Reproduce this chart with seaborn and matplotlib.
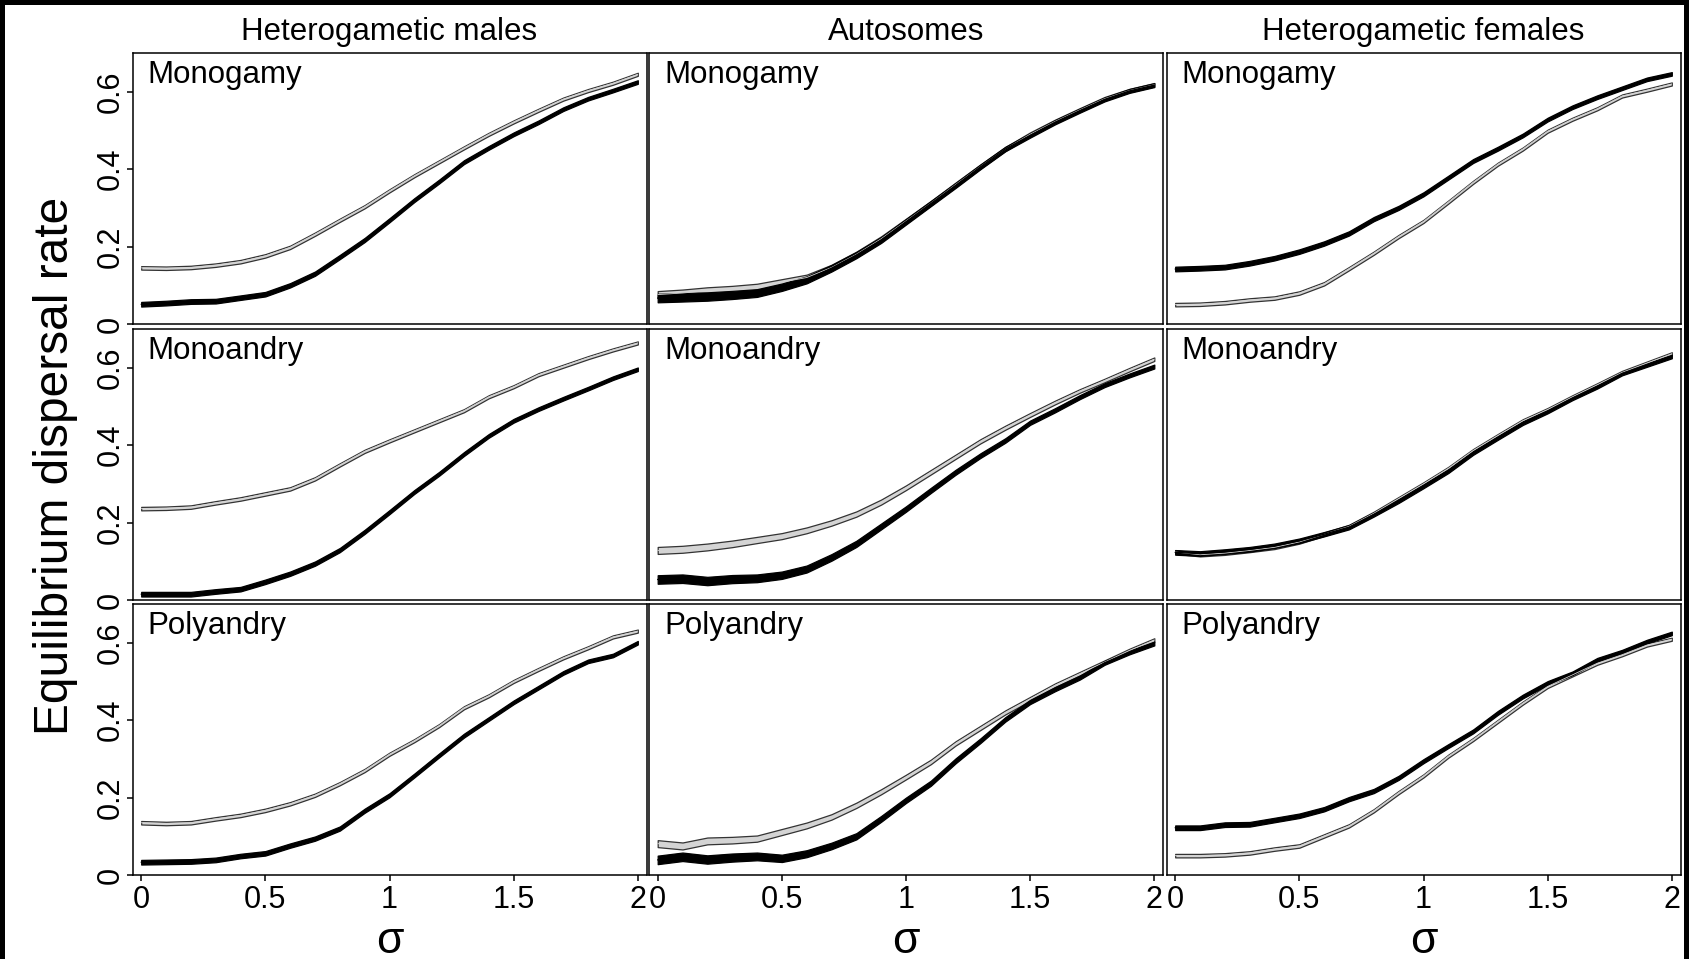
import numpy as np
import pandas as pd
import matplotlib
matplotlib.use("Agg")
import matplotlib.pyplot as plt
from matplotlib.patches import Rectangle
import seaborn as sns

sns.set_style("ticks")
plt.rcParams['font.family'] = ['Liberation Sans', 'DejaVu Sans']
plt.rcParams['text.color'] = 'black'
plt.rcParams['xtick.color'] = 'black'
plt.rcParams['ytick.color'] = 'black'
plt.rcParams['axes.labelcolor'] = 'black'

# ---------------- data ----------------
sigma = [0.0, 0.1, 0.2, 0.3, 0.4, 0.5, 0.6, 0.7, 0.8, 0.9, 1.0,
         1.1, 1.2, 1.3, 1.4, 1.5, 1.6, 1.7, 1.8, 1.9, 2.0]

col_titles = ["Heterogametic males", "Autosomes", "Heterogametic females"]
row_titles = ["Monogamy", "Monoandry", "Polyandry"]
x_ticks = [0, 0.5, 1, 1.5, 2]
x_tick_labels = ["0", "0.5", "1", "1.5", "2"]
y_ticks = [0, 0.2, 0.4, 0.6]
y_tick_labels = ["0", "0.2", "0.4", "0.6"]

# Heterogametic males
hm_mono_gray = [0.145, 0.144, 0.146, 0.152, 0.161, 0.176, 0.198, 0.232, 0.268, 0.303, 0.344,
                0.383, 0.419, 0.455, 0.490, 0.522, 0.552, 0.581, 0.603, 0.622, 0.645]
hm_mono_black = [0.051, 0.054, 0.058, 0.059, 0.068, 0.077, 0.100, 0.130, 0.173, 0.217, 0.268,
                 0.320, 0.368, 0.418, 0.455, 0.490, 0.521, 0.555, 0.582, 0.603, 0.625]
hm_mand_gray = [0.236, 0.237, 0.240, 0.251, 0.261, 0.274, 0.287, 0.313, 0.349, 0.384, 0.411,
                0.437, 0.463, 0.489, 0.525, 0.551, 0.582, 0.604, 0.626, 0.646, 0.664]
hm_mand_black = [0.015, 0.015, 0.015, 0.022, 0.028, 0.047, 0.068, 0.094, 0.129, 0.176, 0.227,
                 0.279, 0.326, 0.377, 0.424, 0.463, 0.493, 0.520, 0.546, 0.573, 0.596]
hm_poly_gray = [0.135, 0.133, 0.135, 0.145, 0.154, 0.167, 0.184, 0.206, 0.236, 0.270, 0.312,
                0.347, 0.386, 0.432, 0.463, 0.500, 0.531, 0.561, 0.587, 0.615, 0.630]
hm_poly_black = [0.033, 0.034, 0.035, 0.039, 0.049, 0.056, 0.076, 0.094, 0.120, 0.166, 0.206,
                 0.257, 0.309, 0.360, 0.403, 0.446, 0.484, 0.522, 0.552, 0.567, 0.600]

# Autosomes
au_mono_gray = [0.076, 0.080, 0.086, 0.090, 0.096, 0.108, 0.120, 0.146, 0.180, 0.220, 0.266,
                0.312, 0.360, 0.407, 0.452, 0.490, 0.523, 0.553, 0.582, 0.603, 0.618]
au_mono_black = [0.067, 0.069, 0.071, 0.075, 0.080, 0.095, 0.114, 0.144, 0.178, 0.217, 0.264,
                 0.311, 0.358, 0.406, 0.452, 0.487, 0.521, 0.551, 0.580, 0.602, 0.617]
au_mand_gray = [0.128, 0.131, 0.137, 0.145, 0.155, 0.165, 0.180, 0.199, 0.222, 0.253, 0.290,
                0.330, 0.370, 0.410, 0.445, 0.478, 0.510, 0.540, 0.567, 0.595, 0.622]
au_mand_black = [0.053, 0.055, 0.049, 0.054, 0.056, 0.064, 0.080, 0.110, 0.145, 0.190, 0.235,
                 0.283, 0.330, 0.373, 0.412, 0.458, 0.490, 0.524, 0.555, 0.580, 0.603]
au_poly_gray = [0.081, 0.075, 0.088, 0.090, 0.094, 0.111, 0.128, 0.150, 0.180, 0.215, 0.253,
                0.292, 0.340, 0.380, 0.420, 0.455, 0.490, 0.520, 0.550, 0.580, 0.607]
au_poly_black = [0.039, 0.047, 0.040, 0.045, 0.048, 0.043, 0.055, 0.075, 0.100, 0.145, 0.193,
                 0.237, 0.295, 0.347, 0.402, 0.447, 0.480, 0.510, 0.548, 0.575, 0.598]

# Heterogametic females
hf_mono_gray = [0.050, 0.051, 0.055, 0.062, 0.067, 0.080, 0.104, 0.143, 0.183, 0.226, 0.265,
                0.315, 0.366, 0.413, 0.452, 0.498, 0.529, 0.556, 0.589, 0.604, 0.620]
hf_mono_black = [0.142, 0.144, 0.147, 0.157, 0.170, 0.187, 0.208, 0.234, 0.271, 0.300, 0.335,
                 0.378, 0.421, 0.453, 0.487, 0.528, 0.560, 0.586, 0.609, 0.632, 0.646]
hf_mand_gray = [0.124, 0.117, 0.121, 0.128, 0.136, 0.150, 0.170, 0.190, 0.224, 0.262, 0.300,
                0.340, 0.386, 0.425, 0.463, 0.492, 0.525, 0.556, 0.588, 0.612, 0.636]
hf_mand_black = [0.123, 0.120, 0.125, 0.131, 0.140, 0.153, 0.170, 0.188, 0.221, 0.256, 0.294,
                 0.333, 0.380, 0.419, 0.457, 0.487, 0.521, 0.551, 0.585, 0.607, 0.629]
hf_poly_gray = [0.050, 0.050, 0.052, 0.057, 0.067, 0.075, 0.101, 0.127, 0.166, 0.213, 0.256,
                0.307, 0.350, 0.397, 0.444, 0.487, 0.517, 0.547, 0.569, 0.594, 0.609]
hf_poly_black = [0.122, 0.122, 0.130, 0.131, 0.142, 0.153, 0.170, 0.196, 0.217, 0.251, 0.294,
                 0.333, 0.371, 0.419, 0.461, 0.496, 0.521, 0.556, 0.577, 0.603, 0.624]

# half widths of the confidence bands
hw_black_sex = [0.0060, 0.0060, 0.0060, 0.0060, 0.0058, 0.0058, 0.0056, 0.0055, 0.0054, 0.0053, 0.0052,
                0.0050, 0.0050, 0.0050, 0.0048, 0.0048, 0.0047, 0.0047, 0.0046, 0.0046, 0.0046]
hw_gray_sex = [0.0045, 0.0045, 0.0045, 0.0045, 0.0045, 0.0045, 0.0044, 0.0043, 0.0042, 0.0042, 0.0041,
               0.0040, 0.0040, 0.0040, 0.0040, 0.0040, 0.0040, 0.0040, 0.0040, 0.0040, 0.0040]
hw_black_auto = [0.0110, 0.0110, 0.0108, 0.0105, 0.0100, 0.0095, 0.0090, 0.0085, 0.0080, 0.0075, 0.0070,
                 0.0066, 0.0064, 0.0060, 0.0058, 0.0055, 0.0054, 0.0052, 0.0050, 0.0050, 0.0050]
hw_gray_auto = [0.0090, 0.0090, 0.0088, 0.0085, 0.0080, 0.0078, 0.0075, 0.0070, 0.0068, 0.0065, 0.0060,
                0.0058, 0.0055, 0.0054, 0.0052, 0.0050, 0.0048, 0.0046, 0.0045, 0.0045, 0.0045]

panels = [
    [(hm_mono_gray, hm_mono_black), (au_mono_gray, au_mono_black), (hf_mono_gray, hf_mono_black)],
    [(hm_mand_gray, hm_mand_black), (au_mand_gray, au_mand_black), (hf_mand_gray, hf_mand_black)],
    [(hm_poly_gray, hm_poly_black), (au_poly_gray, au_poly_black), (hf_poly_gray, hf_poly_black)],
]
col_widths = [(hw_gray_sex, hw_black_sex), (hw_gray_auto, hw_black_auto), (hw_gray_sex, hw_black_sex)]


def band_frame(mean, hw):
    m = np.asarray(mean)
    h = np.asarray(hw)
    s = np.asarray(sigma)
    return pd.DataFrame({"sigma": np.concatenate([s, s]),
                         "rate": np.concatenate([m - h, m + h])})


# ---------------- figure ----------------
W, H = 1689, 959
fig = plt.figure(figsize=(W / 100, H / 100), dpi=100)

col_left = [132.5, 649.0, 1166.5]
row_top = [53, 329, 604]
ax_w, ax_h = 514, 271

for r in range(3):
    for c in range(3):
        ax = fig.add_axes([col_left[c] / W, 1 - (row_top[r] + ax_h) / H, ax_w / W, ax_h / H])
        gray, black = panels[r][c]
        hw_g, hw_b = col_widths[c]

        sns.lineplot(data=band_frame(gray, hw_g), x="sigma", y="rate", ax=ax,
                     estimator="mean", errorbar=("pi", 100), color="#d4d4d4",
                     linewidth=0.6, err_kws={"alpha": 1.0})
        ax.collections[-1].set_facecolor("#d4d4d4")
        ax.collections[-1].set_edgecolor("#333333")
        ax.collections[-1].set_linewidth(0.9)

        sns.lineplot(data=band_frame(black, hw_b), x="sigma", y="rate", ax=ax,
                     estimator="mean", errorbar=("pi", 100), color="black",
                     linewidth=1.0, err_kws={"alpha": 1.0})
        ax.collections[-1].set_facecolor("black")
        ax.collections[-1].set_edgecolor("black")
        ax.collections[-1].set_linewidth(0.9)

        ax.set_xlim(-0.035, 2.035)
        ax.set_ylim(0, 0.70)
        ax.set_xlabel("")
        ax.set_ylabel("")
        for sp in ax.spines.values():
            sp.set_visible(True)
            sp.set_linewidth(1.1)
            sp.set_color("black")

        ax.set_xticks(x_ticks)
        ax.set_yticks(y_ticks)
        ax.tick_params(axis="both", direction="out", length=4, width=1.1,
                       labelsize=22, colors="black")
        ax.tick_params(axis="x", pad=3)
        ax.tick_params(axis="y", pad=0.5, labelrotation=90)
        if r == 2:
            ax.set_xticklabels(x_tick_labels)
        else:
            ax.tick_params(axis="x", length=0, labelbottom=False)
        if c == 0:
            ax.set_yticklabels(y_tick_labels)
            for lab in ax.get_yticklabels():
                lab.set_va("center")
        else:
            ax.tick_params(axis="y", length=0, labelleft=False)

        ax.text(0.029, 0.89, row_titles[r], transform=ax.transAxes,
                fontsize=22.5, ha="left", va="baseline", color="black")

for c in range(3):
    cx = (col_left[c] + ax_w / 2) / W
    fig.text(cx, 1 - 40 / H, col_titles[c], fontsize=22.5, ha="center", va="baseline",
             color="black")
    fig.text(cx, 6 / H, "σ", fontsize=32, ha="center", va="baseline", color="black")

fig.text(56 / W, 1 - 466 / H, "Equilibrium dispersal rate", fontsize=34.5,
         rotation=90, ha="center", va="center", color="black")

# black frame strips seen on the reference scan
for (x0, y0, w, h) in [(0, 1 - 5 / H, 1, 5 / H), (0, 0, 5 / W, 1), (1684 / W, 0, 5 / W, 1)]:
    fig.patches.append(Rectangle((x0, y0), w, h, transform=fig.transFigure,
                                 facecolor="black", edgecolor="none", zorder=10))

fig.savefig("out.png", dpi=100)
